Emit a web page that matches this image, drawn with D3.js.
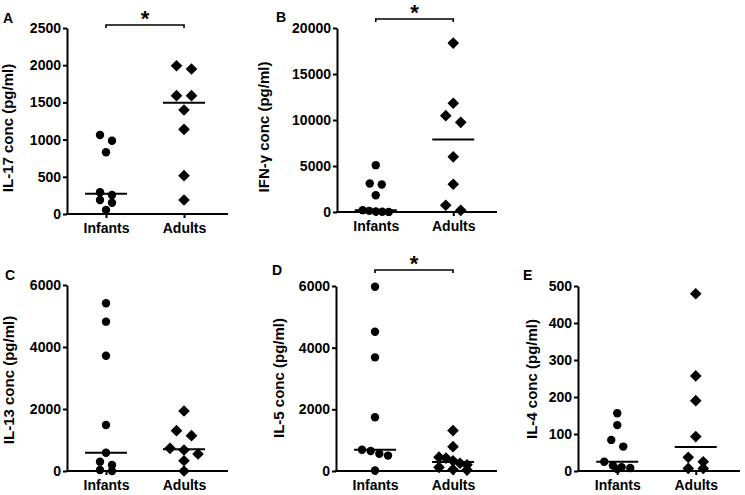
<!DOCTYPE html>
<html>
<head>
<meta charset="utf-8">
<script src="https://cdn.jsdelivr.net/npm/d3@7"></script>
<style>
  html, body { margin: 0; padding: 0; background: #ffffff; }
  svg { display: block; }
  text { font-family: "Liberation Sans", Arial, sans-serif; font-weight: bold; fill: #000; }
</style>
</head>
<body>
<svg id="chart" width="745" height="495"></svg>
<script>
// ---------------- data ----------------
const categories = ["Infants", "Adults"];
const panelLetters = ["A", "B", "C", "D", "E"];
const yTitles = ["IL-17 conc (pg/ml)", "IFN-\u03b3 conc (pg/ml)", "IL-13 conc (pg/ml)", "IL-5 conc (pg/ml)", "IL-4 conc (pg/ml)"];
const yMaxima = [2500, 20000, 6000, 6000, 500];
const ticksA = [0, 500, 1000, 1500, 2000, 2500];
const ticksB = [0, 5000, 10000, 15000, 20000];
const ticksC = [0, 2000, 4000, 6000];
const ticksD = [0, 2000, 4000, 6000];
const ticksE = [0, 100, 200, 300, 400, 500];
const significant = [true, true, false, true, false];

const il17Infants = [1062, 985, 829, 292, 255, 188, 152, 54];
const il17Adults  = [1993, 1949, 1590, 1590, 1398, 1138, 515, 188];
const ifngInfants = [5090, 3100, 2990, 1820, 200, 120, 60, 30, 10];
const ifngAdults  = [18364, 11820, 10470, 9750, 6000, 3020, 730, 185];
const il13Infants = [5410, 4817, 3720, 1484, 590, 301, 194, 32, 0];
const il13Adults  = [1935, 1300, 1140, 732, 677, 548, 332, 0];
const il5Infants  = [5978, 4518, 3686, 1741, 690, 650, 560, 500, 15];
const il5Adults   = [1310, 790, 450, 420, 330, 250, 200, 120, 50, 30];
const il4Infants  = [156, 124, 84, 66, 25, 15, 10, 8, 5];
const il4Adults   = [479, 257, 190, 93, 37, 25, 7, 7];

// ---------------- layout (positions only) ----------------
const frames = [
  {x0: 67,  x1: 228, yTop: 28,  yBot: 214, titleX: 13,  titleY: 128, letterX: 3,   letterY: 23,  bracketY: 25},
  {x0: 337, x1: 497, yTop: 28,  yBot: 212, titleX: 269, titleY: 127, letterX: 276, letterY: 22,  bracketY: 19},
  {x0: 67,  x1: 228, yTop: 285, yBot: 471, titleX: 14,  titleY: 380, letterX: 5,   letterY: 280, bracketY: 0},
  {x0: 336, x1: 497, yTop: 286, yBot: 471, titleX: 284, titleY: 378, letterX: 272, letterY: 275, bracketY: 270},
  {x0: 578, x1: 740, yTop: 286, yBot: 471, titleX: 537, titleY: 379, letterX: 523, letterY: 280, bracketY: 0}
];
const tickSets = [ticksA, ticksB, ticksC, ticksD, ticksE];
const groupData = [
  [il17Infants, il17Adults],
  [ifngInfants, ifngAdults],
  [il13Infants, il13Adults],
  [il5Infants, il5Adults],
  [il4Infants, il4Adults]
];

const svg = d3.select("#chart");

// Prism-like scatter layout: points in the same horizontal row are spread symmetrically
function swarm(values, y, rowH, spacing, maxSpread) {
  const pts = values.map(v => ({v, y: y(v)})).sort((a, b) => a.y - b.y);
  const rows = [];
  pts.forEach(p => {
    const last = rows[rows.length - 1];
    if (last && p.y - last[0].y <= rowH) last.push(p); else rows.push([p]);
  });
  rows.forEach(r => {
    const k = r.length;
    const sp = k > 1 ? Math.min(spacing, maxSpread / (k - 1)) : 0;
    r.forEach((p, i) => { p.dx = (i - (k - 1) / 2) * sp; });
  });
  return pts;
}

frames.forEach((f, pi) => {
  const g = svg.append("g");
  const y = d3.scaleLinear().domain([0, yMaxima[pi]]).range([f.yBot, f.yTop]);
  const x = d3.scalePoint().domain(categories).range([f.x0, f.x1 - 5]).padding(0.5);

  // y axis
  const ya = g.append("g").attr("transform", `translate(${f.x0},0)`)
    .call(d3.axisLeft(y).tickValues(tickSets[pi]).tickFormat(d3.format("d"))
      .tickSize(4).tickPadding(2).tickSizeOuter(0));
  ya.select(".domain").attr("stroke", "#000").attr("stroke-width", 2);
  ya.selectAll(".tick line").attr("stroke", "#000").attr("stroke-width", 2);
  ya.selectAll(".tick text").style("font-size", "14px").attr("fill", "#000");

  // x axis
  const xa = g.append("g").attr("transform", `translate(0,${f.yBot})`)
    .call(d3.axisBottom(x).tickSize(4).tickPadding(5).tickSizeOuter(0));
  xa.select(".domain").remove();
  xa.selectAll(".tick line").attr("stroke", "#000").attr("stroke-width", 2);
  xa.selectAll(".tick text").style("font-size", "14px").attr("fill", "#000");
  g.append("line").attr("x1", f.x0 - 1).attr("x2", f.x1)
    .attr("y1", f.yBot).attr("y2", f.yBot).attr("stroke", "#000").attr("stroke-width", 2);

  // y title
  g.append("text")
    .attr("transform", `translate(${f.titleX},${f.titleY}) rotate(-90)`)
    .attr("text-anchor", "middle")
    .style("font-size", "15px")
    .text(yTitles[pi]);

  // panel letter
  g.append("text").attr("x", f.letterX).attr("y", f.letterY)
    .style("font-size", "14px").text(panelLetters[pi]);

  // points
  categories.forEach((cat, ci) => {
    const vals = groupData[pi][ci];
    const cx = x(cat);
    if (ci === 0) {
      const pts = swarm(vals, y, 7, 12, 26);
      g.selectAll(null).data(pts).enter().append("circle")
        .attr("cx", d => cx + d.dx).attr("cy", d => d.y).attr("r", 4.2).attr("fill", "#000");
    } else {
      const pts = swarm(vals, y, 10, 15, 28);
      g.selectAll(null).data(pts).enter().append("path")
        .attr("d", d3.symbol(d3.symbolSquare, 68)())
        .attr("transform", d => `translate(${cx + d.dx},${d.y}) rotate(45)`)
        .attr("fill", "#000");
    }
    const med = d3.median(vals);
    g.append("line").attr("x1", cx - 21).attr("x2", cx + 21)
      .attr("y1", y(med)).attr("y2", y(med))
      .attr("stroke", "#000").attr("stroke-width", 2);
  });

  // significance bracket
  if (significant[pi]) {
    const xa0 = x(categories[0]), xa1 = x(categories[1]);
    g.append("path")
      .attr("d", `M${xa0},${f.bracketY + 3}V${f.bracketY}H${xa1}V${f.bracketY + 3}`)
      .attr("fill", "none").attr("stroke", "#000").attr("stroke-width", 1.6);
    g.append("text").attr("x", (xa0 + xa1) / 2).attr("y", f.bracketY + 1)
      .attr("text-anchor", "middle").style("font-size", "22px").text("*");
  }
});
</script>
</body>
</html>
